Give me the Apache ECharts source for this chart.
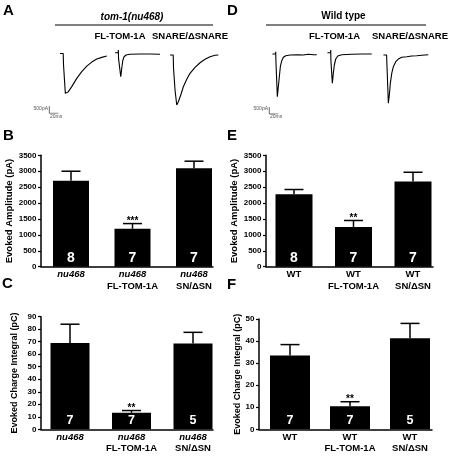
<!DOCTYPE html>
<html><head><meta charset="utf-8">
<script src="https://cdn.jsdelivr.net/npm/echarts@6/dist/echarts.min.js"></script>
<style>html,body{margin:0;padding:0;background:#fff}#c{width:452px;height:456px}</style>
</head><body><div id="c"></div><script>
// ---------- DATA ----------
// representative traces: [time (ms from stimulus), current (pA)]
const traceNu468 = [[-7.3,0],[-0.3,0],[0,130],[0.4,-800],[1.5,-900],[4.4,-2790],[5.9,-2860],[11,-2670],[18.5,-2320],[29.5,-1740],[40.5,-1270],[51.5,-880],[62.5,-600],[73.5,-390],[84.5,-270],[95.5,-180]];
const traceNu468FL = [[-7.3,0],[-0.3,0],[0,190],[0.4,-400],[5.3,-1680],[7.5,-1090],[9.7,-560],[12.5,-280],[17,-160],[25.7,-110],[47.7,-90],[69.7,-90],[91.7,-110]];
const traceNu468SN = [[-7.3,0],[-0.3,0],[0,120],[0.4,-930],[3.7,-2450],[7.5,-3500],[11,-3270],[16.3,-2800],[22,-2220],[29.5,-1700],[36.7,-1280],[47.7,-860],[58.7,-540],[69.7,-300],[80.7,-120],[91.7,-20],[99,0]];
const traceWT = [[-7.3,0],[-0.3,0],[0,160],[0.3,-420],[3.5,-2990],[5.7,-2290],[7.9,-1590],[10.1,-890],[13.2,-470],[16.7,-230],[22,-120],[31.5,-70],[49.7,-50],[60.7,-70],[71.7,-20],[82.7,-50],[90.2,-50]];
const traceWTFL = [[-7.3,0],[-0.3,0],[0,190],[0.3,-510],[3.5,-2140],[5.7,-1440],[7.9,-860],[11,-440],[15.4,-230],[24.2,-140],[46.2,-110],[68.2,-90],[90.2,-90]];
const traceWTSN = [[-7.3,0],[-0.3,0],[0,120],[0.3,-580],[3.5,-3380],[5.7,-2800],[7.9,-1980],[11,-1280],[14.5,-820],[19.8,-470],[25.5,-280],[33,-160],[44,-120],[55,-70],[66,-50],[77,-20],[91.5,20]];
const scaleBarPA = 500;
const scaleBarMS = 20;

// bar charts
const constructs = ['', 'FL-TOM-1A', 'SN/\u0394SN'];
const ampNu468 = [2700, 1190, 3090];
const ampNu468Top = [3000, 1355, 3315];
const ampNu468N = [8, 7, 7];
const ampNu468Sig = ['', '***', ''];
const chargeNu468 = [69, 13.2, 68.5];
const chargeNu468Top = [84, 15, 77.5];
const chargeNu468N = [7, 7, 5];
const chargeNu468Sig = ['', '**', ''];
const ampWT = [2275, 1250, 2675];
const ampWTTop = [2425, 1452, 2967];
const ampWTN = [8, 7, 7];
const ampWTSig = ['', '**', ''];
const chargeWT = [33.4, 10.4, 41.3];
const chargeWTTop = [38.4, 12.5, 48];
const chargeWTN = [7, 7, 5];
const chargeWTSig = ['', '**', ''];
const ampTicks = {max: 3500, interval: 500};
const chargeNu468Ticks = {max: 90, interval: 10};
const chargeWTTicks = {max: 50, interval: 10};

// ---------- BUILD ----------
const FF = 'Liberation Sans, Arial, Helvetica, sans-serif';
const grids = [], xAxes = [], yAxes = [], series = [];
const MS_PER_PX = 2.2, PA_PER_PX = 70;

function addTrace(left, top, data) {
  const gi = grids.length;
  grids.push({left: left, top: top, width: 110 / MS_PER_PX, height: 4000 / PA_PER_PX});
  xAxes.push({gridIndex: gi, type: 'value', min: -10, max: 100, show: false});
  yAxes.push({gridIndex: gi, type: 'value', min: -3600, max: 400, show: false});
  series.push({type: 'line', xAxisIndex: gi, yAxisIndex: gi, data: data, symbol: 'none',
    lineStyle: {color: '#000', width: 1.1}, silent: true});
}
function addScaleBar(left, bottom) {
  const gi = grids.length;
  const h = scaleBarPA / PA_PER_PX;
  grids.push({left: left, top: bottom - h, width: scaleBarMS / MS_PER_PX, height: h});
  xAxes.push({gridIndex: gi, type: 'value', min: 0, max: scaleBarMS, show: false});
  yAxes.push({gridIndex: gi, type: 'value', min: 0, max: scaleBarPA, show: false});
  series.push({type: 'line', xAxisIndex: gi, yAxisIndex: gi, symbol: 'none',
    data: [[0, scaleBarPA], [0, 0], [scaleBarMS, 0]], lineStyle: {color: '#444', width: 0.8}, silent: true});
}

addTrace(58.8, 47.8, traceNu468);
addTrace(113.8, 47.0, traceNu468FL);
addTrace(168.8, 49.3, traceNu468SN);
addTrace(271.2, 48.3, traceWT);
addTrace(326.2, 47.0, traceWTFL);
addTrace(382.2, 49.3, traceWTSN);
addScaleBar(49.3, 113.3);
addScaleBar(269.3, 114);

function addBarPanel(c) {
  const gi = grids.length;
  const xMin = -(c.c1 - c.left) / c.u;
  const xMax = (c.right - c.c1) / c.u;
  grids.push({left: c.left, top: c.top, width: c.right - c.left, height: c.bottom - c.top});
  xAxes.push({gridIndex: gi, type: 'value', min: xMin, max: xMax,
    axisLine: {show: true, onZero: false, lineStyle: {color: '#000', width: 1.5}},
    axisTick: {show: false}, splitLine: {show: false},
    axisLabel: {customValues: [0, 1, 2], margin: 2, color: '#000', lineHeight: 11.5,
      formatter: function (v) {
        const i = Math.round(v);
        const g = c.italic ? '{i|' + c.geno + '}' : '{n|' + c.geno + '}';
        return constructs[i] ? g + '\n{n|' + constructs[i] + '}' : g;
      },
      rich: {
        i: {fontStyle: 'italic', fontWeight: 'bold', fontSize: 9.5, fontFamily: FF, color: '#000', lineHeight: 11.5},
        n: {fontWeight: 'bold', fontSize: 9.5, fontFamily: FF, color: '#000', lineHeight: 11.5}
      }}
  });
  yAxes.push({gridIndex: gi, type: 'value', min: 0, max: c.ticks.max, interval: c.ticks.interval,
    axisLine: {show: true, onZero: false, lineStyle: {color: '#000', width: 1.5}},
    axisTick: {show: true, length: 3, lineStyle: {color: '#000', width: 1.2}},
    splitLine: {show: false},
    axisLabel: {fontSize: 8, fontWeight: 'bold', color: '#000', margin: 4.5, fontFamily: FF,
      formatter: v => String(v)},
    name: c.yName, nameLocation: 'middle', nameGap: c.nameGap,
    nameTextStyle: {fontSize: c.nameSize, fontWeight: 'bold', color: '#000', fontFamily: FF}
  });
  series.push({type: 'bar', xAxisIndex: gi, yAxisIndex: gi, barWidth: c.barWidth,
    data: c.values.map((v, i) => [i, v]), itemStyle: {color: '#000'},
    label: {show: true, position: 'insideBottom', distance: 2, color: '#fff', fontWeight: 'bold',
      fontSize: c.nFont, fontFamily: FF, formatter: p => String(c.ns[p.dataIndex])}});
  series.push({type: 'custom', xAxisIndex: gi, yAxisIndex: gi, z: 5,
    data: c.values.map((v, i) => [i, v, c.tops[i]]),
    renderItem: function (params, api) {
      const p0 = api.coord([api.value(0), api.value(1)]);
      const p1 = api.coord([api.value(0), api.value(2)]);
      const hw = 9.5;
      const ch = [
        {type: 'line', shape: {x1: p0[0], y1: p0[1], x2: p1[0], y2: p1[1]}, style: {stroke: '#000', lineWidth: 1.5}},
        {type: 'line', shape: {x1: p1[0] - hw, y1: p1[1], x2: p1[0] + hw, y2: p1[1]}, style: {stroke: '#000', lineWidth: 1.5}}
      ];
      const s = c.sigs[params.dataIndex];
      if (s) ch.push({type: 'text', x: p1[0], y: p1[1] - 2, style: {text: s, fill: '#000',
        font: 'bold 10px ' + FF, textAlign: 'center', textVerticalAlign: 'middle'}});
      return {type: 'group', children: ch};
    }});
}

addBarPanel({left: 41, right: 213, top: 155.3, bottom: 266.7, c1: 71, u: 61.5, italic: true, geno: 'nu468',
  values: ampNu468, tops: ampNu468Top, ns: ampNu468N, sigs: ampNu468Sig, ticks: ampTicks,
  yName: 'Evoked Amplitude (pA)', nameGap: 25, nameSize: 9.5, barWidth: 36, nFont: 14});
addBarPanel({left: 41, right: 213, top: 316.7, bottom: 429.3, c1: 70, u: 61.5, italic: true, geno: 'nu468',
  values: chargeNu468, tops: chargeNu468Top, ns: chargeNu468N, sigs: chargeNu468Sig, ticks: chargeNu468Ticks,
  yName: 'Evoked Charge Integral (pC)', nameGap: 22, nameSize: 9, barWidth: 39, nFont: 12.5});
addBarPanel({left: 266, right: 433, top: 155.3, bottom: 266.7, c1: 294, u: 59.5, italic: false, geno: 'WT',
  values: ampWT, tops: ampWTTop, ns: ampWTN, sigs: ampWTSig, ticks: ampTicks,
  yName: 'Evoked Amplitude (pA)', nameGap: 25, nameSize: 9.5, barWidth: 37, nFont: 14});
addBarPanel({left: 259, right: 432, top: 319, bottom: 429.3, c1: 290, u: 60, italic: false, geno: 'WT',
  values: chargeWT, tops: chargeWTTop, ns: chargeWTN, sigs: chargeWTSig, ticks: chargeWTTicks,
  yName: 'Evoked Charge Integral (pC)', nameGap: 16, nameSize: 9, barWidth: 40, nFont: 12.5});

function txt(x, y, s, font, align, va, fill) {
  return {type: 'text', x: x, y: y, style: {text: s, font: font, fill: fill || '#000',
    textAlign: align || 'left', textVerticalAlign: va || 'top'}};
}
const graphic = [
  txt(3, 3, 'A', 'bold 15px ' + FF), txt(3, 128, 'B', 'bold 15px ' + FF), txt(2, 276, 'C', 'bold 15px ' + FF),
  txt(227, 3, 'D', 'bold 15px ' + FF), txt(227, 128, 'E', 'bold 15px ' + FF), txt(227, 277, 'F', 'bold 15px ' + FF),
  txt(132, 17.5, 'tom-1(nu468)', 'italic bold 10px ' + FF, 'center', 'middle'),
  txt(343.5, 16, 'Wild type', 'bold 10px ' + FF, 'center', 'middle'),
  {type: 'line', shape: {x1: 55, y1: 25, x2: 213, y2: 25}, style: {stroke: '#000', lineWidth: 1}},
  {type: 'line', shape: {x1: 266, y1: 25, x2: 426, y2: 25}, style: {stroke: '#000', lineWidth: 1}},
  txt(120, 36.5, 'FL-TOM-1A', 'bold 9.5px ' + FF, 'center', 'middle'),
  txt(190, 36.5, 'SNARE/\u0394SNARE', 'bold 9.5px ' + FF, 'center', 'middle'),
  txt(334.5, 36.5, 'FL-TOM-1A', 'bold 9.5px ' + FF, 'center', 'middle'),
  txt(410, 36.5, 'SNARE/\u0394SNARE', 'bold 9.5px ' + FF, 'center', 'middle'),
  txt(48, 108.5, '500pA', '5px ' + FF, 'right', 'middle', '#555'),
  txt(50, 116.5, '20ms', '5px ' + FF, 'left', 'middle', '#555'),
  txt(268, 109, '500pA', '5px ' + FF, 'right', 'middle', '#555'),
  txt(270, 117, '20ms', '5px ' + FF, 'left', 'middle', '#555')
];

const chart = echarts.init(document.getElementById('c'), null, {renderer: 'canvas'});
chart.setOption({
  animation: false,
  backgroundColor: '#fff',
  textStyle: {fontFamily: FF},
  grid: grids, xAxis: xAxes, yAxis: yAxes, series: series, graphic: graphic
});
</script></body></html>
